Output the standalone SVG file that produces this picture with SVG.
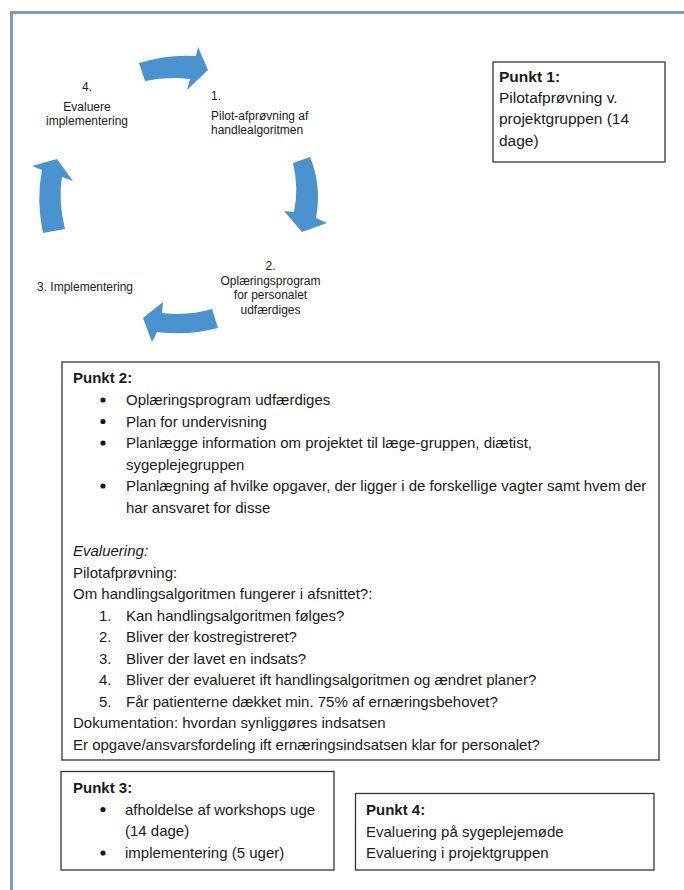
<svg xmlns="http://www.w3.org/2000/svg" width="684" height="890" viewBox="0 0 684 890">
<style>
text{font-family:"Liberation Sans",Arial,sans-serif;fill:#1a1a1a}
.c{font-size:12px}
.m{font-size:15px}
.p1{font-size:15.5px}
.b{font-weight:bold}
.i{font-style:italic}
.box{fill:#fff;stroke:#333;stroke-width:1.3}
.arr{fill:#4a93cf}
.frame{stroke:#829db3;stroke-width:3;fill:none}
</style>
<rect width="684" height="890" fill="#fff"/>
<path class="frame" d="M11.5,890 V12.5 H684"/>

<g id="connectors">
<path class="arr" d="M139,63 Q168,54 196,56 L198,47 L208,70 L187,90 L190,79 Q168,76 145,81 Z"/>
<path class="arr" d="M293,163 Q299,188 294,212 L284,211 L302,232 L327,223 L316,218 Q322,186 310,157 Z"/>
<path class="arr" d="M212,309 Q188,316 162,313 L163,302 L143,318 L152,342 L157,332 Q188,336 218,328 Z"/>
<path class="arr" d="M43,233 Q36,200 42,170 L32,166 L57,159 L73,181 L62,177 Q58,200 65,229 Z"/>
</g>

<g id="step1">
<text class="c" x="211" y="99.5">1.</text>
<text class="c" x="211" y="119.5">Pilot-afprøvning af</text>
<text class="c" x="211" y="133.5">handlealgoritmen</text>
</g>
<g id="step2" text-anchor="middle">
<text class="c" x="270.5" y="270">2.</text>
<text class="c" x="270.5" y="284.5">Oplæringsprogram</text>
<text class="c" x="270.5" y="299">for personalet</text>
<text class="c" x="270.5" y="313.5">udfærdiges</text>
</g>
<g id="step3">
<text class="c" x="37" y="291">3. Implementering</text>
</g>
<g id="step4" text-anchor="middle">
<text class="c" x="87" y="91">4.</text>
<text class="c" x="87" y="111">Evaluere</text>
<text class="c" x="87" y="125">implementering</text>
</g>

<g id="punkt1">
<rect class="box" x="493" y="62" width="172" height="100"/>
<text class="p1 b" x="499" y="82">Punkt 1:</text>
<text class="p1" x="499" y="103">Pilotafprøvning v.</text>
<text class="p1" x="499" y="124">projektgruppen (14</text>
<text class="p1" x="499" y="145.5">dage)</text>
</g>

<g id="punkt2">
<rect class="box" x="62" y="362" width="597" height="398"/>
<text class="m b" x="73" y="383">Punkt 2:</text>
<circle cx="103" cy="400" r="2.6" fill="#1a1a1a"/>
<text class="m" x="126" y="405">Oplæringsprogram udfærdiges</text>
<circle cx="103" cy="421.5" r="2.6" fill="#1a1a1a"/>
<text class="m" x="126" y="426.5">Plan for undervisning</text>
<circle cx="103" cy="443" r="2.6" fill="#1a1a1a"/>
<text class="m" x="126" y="448">Planlægge information om projektet til læge-gruppen, diætist,</text>
<text class="m" x="126" y="469.5">sygeplejegruppen</text>
<circle cx="103" cy="486" r="2.6" fill="#1a1a1a"/>
<text class="m" x="126" y="491">Planlægning af hvilke opgaver, der ligger i de forskellige vagter samt hvem der</text>
<text class="m" x="126" y="512.5">har ansvaret for disse</text>
<text class="m i" x="73" y="556">Evaluering:</text>
<text class="m" x="73" y="577.5">Pilotafprøvning:</text>
<text class="m" x="73" y="599">Om handlingsalgoritmen fungerer i afsnittet?:</text>
<text class="m" x="99" y="620.5">1.</text>
<text class="m" x="126" y="620.5">Kan handlingsalgoritmen følges?</text>
<text class="m" x="99" y="642">2.</text>
<text class="m" x="126" y="642">Bliver der kostregistreret?</text>
<text class="m" x="99" y="663.5">3.</text>
<text class="m" x="126" y="663.5">Bliver der lavet en indsats?</text>
<text class="m" x="99" y="685">4.</text>
<text class="m" x="126" y="685">Bliver der evalueret ift handlingsalgoritmen og ændret planer?</text>
<text class="m" x="99" y="706.5">5.</text>
<text class="m" x="126" y="706.5">Får patienterne dækket min. 75% af ernæringsbehovet?</text>
<text class="m" x="73" y="728">Dokumentation: hvordan synliggøres indsatsen</text>
<text class="m" x="73" y="749.5">Er opgave/ansvarsfordeling ift ernæringsindsatsen klar for personalet?</text>
</g>

<g id="punkt3">
<rect class="box" x="61" y="771.5" width="273" height="98.5"/>
<text class="m b" x="73" y="793">Punkt 3:</text>
<circle cx="103" cy="809.5" r="2.6" fill="#1a1a1a"/>
<text class="m" x="125" y="814.5">afholdelse af workshops uge</text>
<text class="m" x="125" y="836">(14 dage)</text>
<circle cx="103" cy="853" r="2.6" fill="#1a1a1a"/>
<text class="m" x="125" y="858">implementering (5 uger)</text>
</g>

<g id="punkt4">
<rect class="box" x="355.5" y="793.5" width="298.5" height="76.5"/>
<text class="m b" x="366" y="815">Punkt 4:</text>
<text class="m" x="366" y="836.5">Evaluering på sygeplejemøde</text>
<text class="m" x="366" y="858">Evaluering i projektgruppen</text>
</g>
</svg>
